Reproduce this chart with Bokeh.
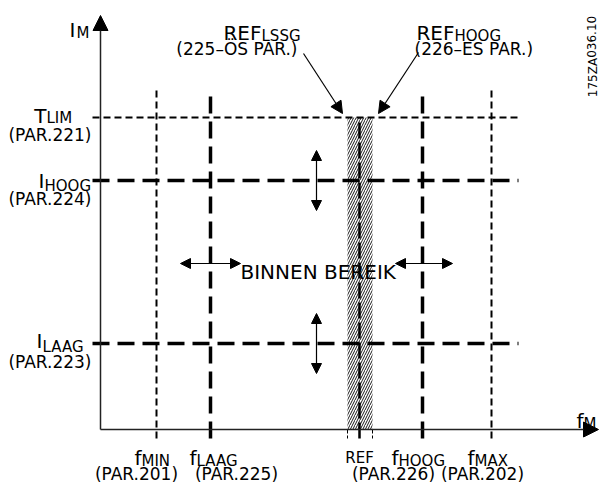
from bokeh.plotting import figure
from bokeh.models import Range1d, Arrow, NormalHead
from bokeh.core.properties import value
from bokeh.embed import file_html
from bokeh.resources import INLINE

# ---------------- data ----------------
freq_main = ["f", "f", "f", "f"]
freq_sub = ["MIN", "LAAG", "HOOG", "MAX"]
freq_pos = [56, 110, 322, 391]
freq_par = ["(PAR.201)", "(PAR.225)", "(PAR.226)", "(PAR.202)"]
freq_kind = ["fine", "bold", "bold", "fine"]

ref_pos = 259
ref_band = [247, 272]

cur_main = ["T", "I", "I"]
cur_sub = ["LIM", "HOOG", "LAAG"]
cur_pos = [312, 249, 86]
cur_par = ["(PAR.221)", "(PAR.224)", "(PAR.223)"]
cur_kind = ["fine", "bold", "bold"]

range_label = "BINNEN BEREIK"
ref_labels_main = ["REF", "REF"]
ref_labels_sub = ["LSSG", "HOOG"]
ref_labels_par = ["(225–ÖS PAR.)", "(226–ES PAR.)"]
drawing_id = "175ZA036.10"

# ---------------- layout ----------------
FONT = value("DejaVu Sans")
STY = {"fine": dict(line_width=2, line_dash="7 4"),
       "bold": dict(line_width=3.5, line_dash="17 8")}
H_X0, H_X1 = -8, 418      # extent of horizontal level lines
V_Y0, V_Y1 = -9, 340      # extent of vertical level lines
AX_X, AX_Y = 498, 414     # axis arrow ends

p = figure(width=602, height=484, x_range=Range1d(-100, 502), y_range=Range1d(-55, 429),
           x_axis_type=None, y_axis_type=None, toolbar_location=None,
           output_backend="svg", min_border=0, outline_line_color=None,
           background_fill_color="white", border_fill_color="white")

# hatched reference band
p.quad(left=[ref_band[0]], right=[ref_band[1]], bottom=[0], top=[cur_pos[0]],
       fill_color=None, line_color=None, hatch_pattern="/", hatch_scale=5,
       hatch_weight=1, hatch_color="black", hatch_alpha=0.9)
p.segment(x0=ref_band, y0=[0, 0], x1=ref_band, y1=[V_Y0, V_Y0], line_color="black",
          line_width=1, line_dash="4 2")

# horizontal level lines
for y, k in zip(cur_pos, cur_kind):
    p.line([H_X0, H_X1], [y, y], line_color="black", **STY[k])

# vertical level lines
for x, k in zip(freq_pos, freq_kind):
    p.line([x, x], [V_Y0, V_Y1], line_color="black", **STY[k])
p.line([ref_pos, ref_pos], [V_Y0, cur_pos[0]], line_color="black", line_width=2.5,
       line_dash="16 4")

# axes
p.add_layout(Arrow(x_start=0, y_start=0, x_end=0, y_end=AX_Y, line_width=1.5,
                   line_color="#222222",
                   end=NormalHead(size=15, fill_color="black", line_color="black")))
p.add_layout(Arrow(x_start=0, y_start=0, x_end=AX_X, y_end=0, line_width=1.5,
                   line_color="#222222",
                   end=NormalHead(size=15, fill_color="black", line_color="black")))

def dbl(x0, y0, x1, y1):
    p.add_layout(Arrow(x_start=x0, y_start=y0, x_end=x1, y_end=y1, line_width=1.2,
                       start=NormalHead(size=10, fill_color="black", line_color="black"),
                       end=NormalHead(size=10, fill_color="black", line_color="black")))

dbl(216, 279, 216, 219)
dbl(216, 116, 216, 56)
dbl(80, 166, 140, 166)
dbl(295, 166, 352, 166)

for xs, ys, xe, ye in [(203, 376, 242, 316), (318, 377, 278, 316)]:
    p.add_layout(Arrow(x_start=xs, y_start=ys, x_end=xe, y_end=ye, line_width=1.2,
                       end=NormalHead(size=12, fill_color="black", line_color="black")))

# ---------------- texts ----------------
def txt(x, y, t, size, align, xo=0, yo=0, angle=0, baseline="alphabetic"):
    p.text(x=x, y=y, text=t, text_font=FONT, text_font_size=size, text_align=align,
           text_baseline=baseline, x_offset=xo, y_offset=yo, text_color="black", angle=angle)

SUB = "15px"
# axis labels
txt([0], [AX_Y], ["I"], "20px", "right", -25, 14)
txt([0], [AX_Y], ["M"], SUB, "left", -24, 17)
txt([AX_X], [0], ["f"], "20px", "right", -15, -9)
txt([AX_X], [0], ["M"], SUB, "left", -15, -6)

# current level labels
cur_bx = [-54, -56, -58]
cur_my = [-2, 0, -3]
cur_sy = [0, 5, 3]
cur_py = [17, 18, 18]
for i in range(3):
    txt([0], [cur_pos[i]], [cur_main[i]], "20px", "right", cur_bx[i], cur_my[i])
    txt([0], [cur_pos[i]], [cur_sub[i]], SUB, "left", cur_bx[i], cur_sy[i])
    txt([0], [cur_pos[i]], [cur_par[i]], "17px", "right", -9, cur_py[i])

# frequency labels
fr_bx = [-15, -14, -24, -17]
fr_px = [-20, 26, -29, -9]
for i in range(4):
    txt([freq_pos[i]], [0], [freq_main[i]], "20px", "right", fr_bx[i], 28)
    txt([freq_pos[i]], [0], [freq_sub[i]], SUB, "left", fr_bx[i], 31)
    txt([freq_pos[i]], [0], [freq_par[i]], "17px", "center", fr_px[i], 44)
txt([ref_pos], [0], ["REF"], "15px", "center", 0, 28)

# reference labels at top
txt([161, 354], [397, 397], ref_labels_main, "20px", "right")
txt([161, 354], [394, 394], ref_labels_sub, SUB, "left")
txt([197], [381], [ref_labels_par[0]], "17px", "right")
txt([314], [381], [ref_labels_par[1]], "17px", "left")

txt([140], [158], [range_label], "20px", "left")
txt([492], [373], [drawing_id], "12px", "center", angle=1.5708, baseline="middle")

open("out.html", "w").write(file_html(p, INLINE))
